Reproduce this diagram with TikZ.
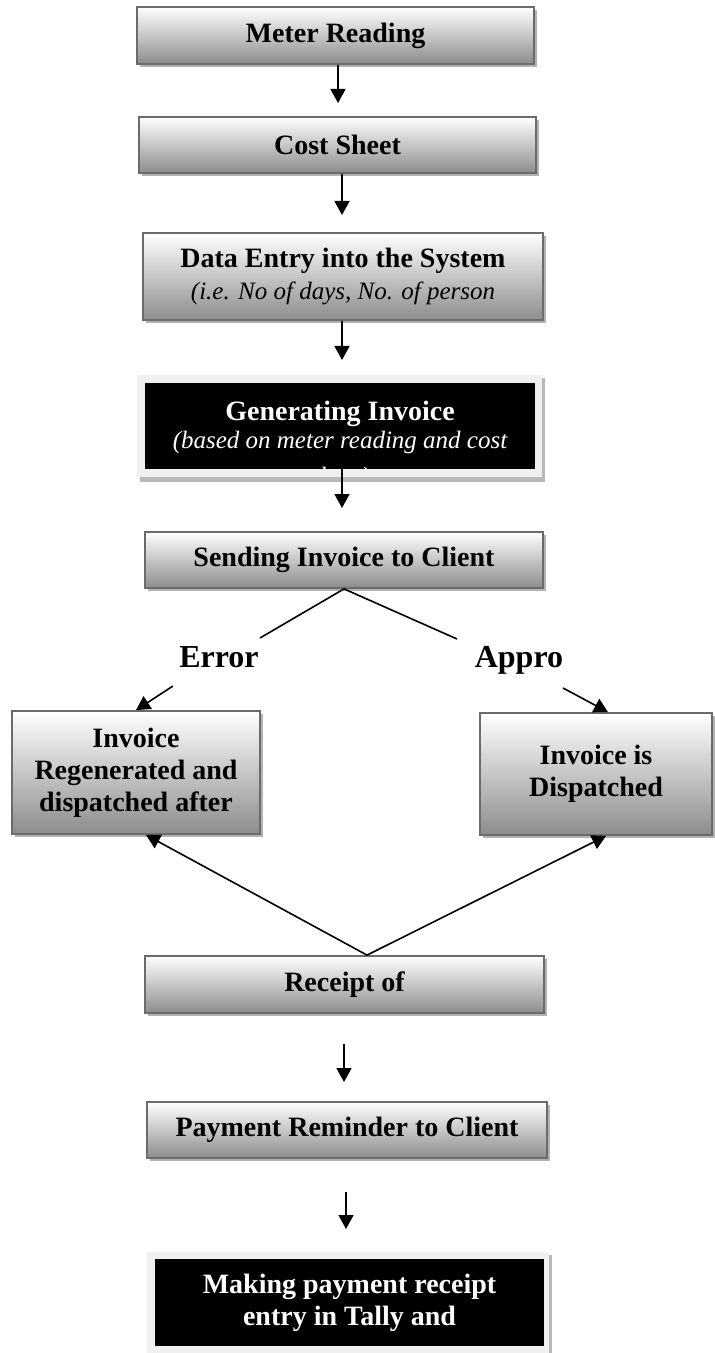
\documentclass[tikz,border=0pt]{standalone}
\usepackage{fontspec}
\setmainfont{Liberation Serif}
\usetikzlibrary{arrows.meta,shadows}

\begin{document}
\begin{tikzpicture}[x=0.5pt,y=-0.5pt,
  boxsize/.style 2 args={minimum width={#1*0.5pt}, minimum height={#2*0.5pt}},
  flowbox/.style={draw=black!58, line width=0.9pt, top color=white, bottom color=black!45,
    drop shadow={shadow xshift=1.5pt, shadow yshift=-1.5pt, fill=black!30, opacity=1},
    inner sep=0pt, align=center, font=\fontsize{14}{16}\selectfont\bfseries},
  darkbox/.style={fill=black, draw=none, inner sep=0pt},
  darktext/.style={text=white, inner sep=0pt, align=center, font=\fontsize{14}{16}\selectfont\bfseries},
  lbl/.style={inner sep=0pt, font=\fontsize{16}{19}\selectfont\bfseries},
  arr/.style={-{Triangle[length=7pt,width=7.5pt]}, line width=0.8pt},
  plain/.style={line width=0.8pt}]
\useasboundingbox (0,0) rectangle (714,1353);

% main chain of process steps
\node[flowbox, boxsize={397}{57}] (meter) at (335.5,35.5) {Meter Reading};
\node[flowbox, boxsize={397}{56}] (cost) at (337.5,145) {Cost Sheet};
\node[flowbox, boxsize={400}{87}] (entry) at (343,276.5)
  {Data Entry into the System\\[0pt]{\fontsize{12.5}{15}\selectfont\mdseries\itshape (i.e. No of days, No. of person}};

% invoice generation: black panel on a light frame
\fill[black!28] (140,378) rectangle (545,482);
\fill[black!6] (137,375) rectangle (542,477);
\node[darkbox, boxsize={390}{86}] (gen) at (340,426) {};
\begin{scope}
  \clip (gen.south west) rectangle (gen.north east);
  \node[darktext, anchor=north] (gentxt) at (340,401)
    {Generating Invoice\\[-2pt]{\fontsize{12.5}{14}\selectfont\mdseries\itshape (based on meter reading and cost}\\[2pt]{\fontsize{12.5}{14}\selectfont\mdseries\itshape sheet)}};
\end{scope}

\node[flowbox, boxsize={398}{56}] (send) at (344,560) {Sending Invoice to Client};
\node[flowbox, boxsize={248}{123}] (regen) at (136,772.5) {Invoice\\Regenerated and\\dispatched after};
\node[flowbox, boxsize={232}{122}] (disp) at (596,774) {Invoice is\\Dispatched};
\node[flowbox, boxsize={399}{57}] (receipt) at (344.5,984.5) {Receipt of};
\node[flowbox, boxsize={400}{56}] (remind) at (347,1130) {Payment Reminder to Client};

% final step: black panel on a light frame
\fill[black!28] (150,1255) rectangle (552,1353);
\fill[black!6] (147,1252) rectangle (549,1353);
\node[darkbox, boxsize={389}{87}] (tally) at (349.5,1302.5) {};
\node[darktext] (tallytxt) at (tally.center) {Making payment receipt\\entry in Tally and};

% branch labels
\node[lbl] (err) at (219,657) {Error};
\node[lbl] (appr) at (519,660) {Appro};

% straight-down arrows
\coordinate (e1) at (338,103);
\draw[arr] (meter.south -| e1) -- (e1);
\coordinate (e2) at (342,215);
\draw[arr] (cost.south -| e2) -- (e2);
\coordinate (e3) at (342,360);
\draw[arr] (entry.south -| e3) -- (e3);
\coordinate (e4) at (342,508);
\draw[arr] (gen.south -| e4) -- (e4);

% split after sending the invoice
\coordinate (errA) at (260,638);
\coordinate (errB) at (173,686);
\coordinate (appA) at (457,639);
\coordinate (appB) at (563,688);
\coordinate (appTip) at (608,713);
\draw[plain] (send.south) -- (errA);
\draw[plain] (send.south) -- (appA);
\draw[arr] (errB) -- (regen.north);
\draw[arr] (appB) -- (appTip |- disp.north);

% arrows back up from the receipt
\coordinate (rc) at (367,956);
\coordinate (tipL) at (146,835);
\coordinate (tipR) at (606,835);
\draw[arr] (receipt.north -| rc) -- (tipL |- regen.south);
\draw[arr] (receipt.north -| rc) -- (tipR |- disp.south);

% arrows between the last steps
\coordinate (e6s) at (344,1044);
\coordinate (e6) at (344,1082);
\draw[arr] (e6s) -- (e6);
\coordinate (e7s) at (346,1192);
\coordinate (e7) at (346,1229);
\draw[arr] (e7s) -- (e7);
\end{tikzpicture}
\end{document}
